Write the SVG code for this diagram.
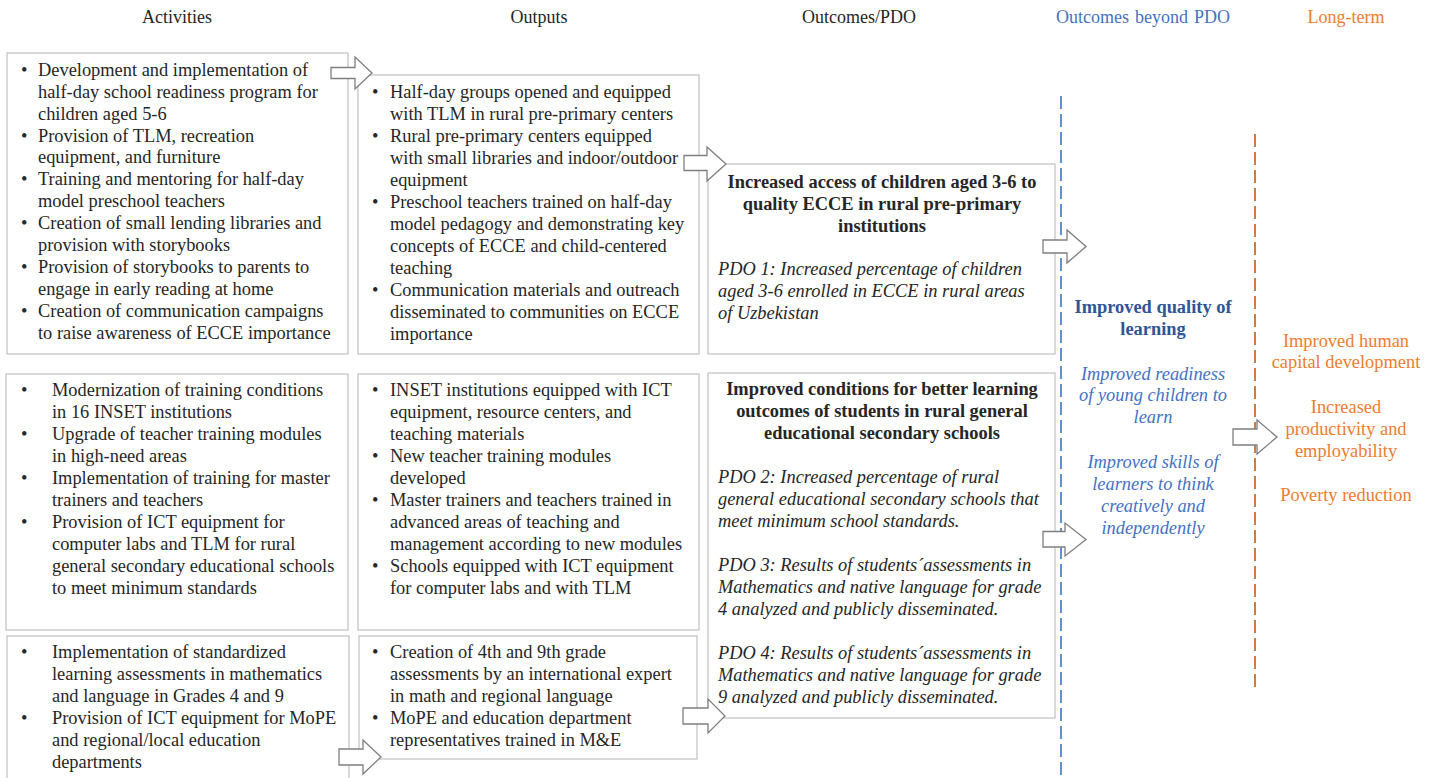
<svg xmlns="http://www.w3.org/2000/svg" width="1434" height="778" viewBox="0 0 1434 778">
<style>
text{font-family:"Liberation Serif","Times New Roman",serif;font-size:18.4px;fill:#262626}
.h{font-size:18px}
.c{text-anchor:middle}
.b{font-weight:bold}
.i{font-style:italic}
.box{fill:#fff;stroke:#c0c0c0;stroke-width:1.2}
.arr{fill:#fff;stroke:#7f7f7f;stroke-width:1.3}
.blue{fill:#4472C4}
.dblue{fill:#2F5597}
.org{fill:#ED7D31}
</style>
<rect width="1434" height="778" fill="#fff"/>
<g id="headers">
<text class="h c" x="177" y="23">Activities</text>
<text class="h c" x="539" y="23">Outputs</text>
<text class="h c" x="859" y="23">Outcomes/PDO</text>
<text class="h c blue" x="1143" y="23" word-spacing="1.5">Outcomes beyond PDO</text>
<text class="h c org" x="1346" y="23">Long-term</text>
</g>
<g id="dividers">
<line x1="1061" y1="96" x2="1061" y2="778" stroke="#4472C4" stroke-width="1.6" stroke-dasharray="13,5"/>
<line x1="1255" y1="134" x2="1255" y2="688" stroke="#C55A11" stroke-width="1.6" stroke-dasharray="13,5"/>
</g>
<g id="act1">
<rect class="box" x="7" y="53" width="341" height="301"/>
<text x="21" y="76">•</text><text x="38" y="76">Development and implementation of</text>
<text x="38" y="98">half-day school readiness program for</text>
<text x="38" y="120">children aged 5-6</text>
<text x="21" y="142">•</text><text x="38" y="142">Provision of TLM, recreation</text>
<text x="38" y="163">equipment, and furniture</text>
<text x="21" y="185">•</text><text x="38" y="185">Training and mentoring for half-day</text>
<text x="38" y="207">model preschool teachers</text>
<text x="21" y="229">•</text><text x="38" y="229">Creation of small lending libraries and</text>
<text x="38" y="251">provision with storybooks</text>
<text x="21" y="273">•</text><text x="38" y="273">Provision of storybooks to parents to</text>
<text x="38" y="295">engage in early reading at home</text>
<text x="21" y="317">•</text><text x="38" y="317">Creation of communication campaigns</text>
<text x="38" y="339">to raise awareness of ECCE importance</text>
</g>
<g id="out1">
<rect class="box" x="358" y="75" width="341" height="279"/>
<text x="372" y="98">•</text><text x="390" y="98">Half-day groups opened and equipped</text>
<text x="390" y="120">with TLM in rural pre-primary centers</text>
<text x="372" y="142">•</text><text x="390" y="142">Rural pre-primary centers equipped</text>
<text x="390" y="164">with small libraries and indoor/outdoor</text>
<text x="390" y="186">equipment</text>
<text x="372" y="208">•</text><text x="390" y="208">Preschool teachers trained on half-day</text>
<text x="390" y="230">model pedagogy and demonstrating key</text>
<text x="390" y="252">concepts of ECCE and child-centered</text>
<text x="390" y="274">teaching</text>
<text x="372" y="296">•</text><text x="390" y="296">Communication materials and outreach</text>
<text x="390" y="318">disseminated to communities on ECCE</text>
<text x="390" y="340">importance</text>
</g>
<g id="outc1">
<rect class="box" x="708" y="164" width="347" height="190"/>
<text class="c b" x="882" y="188">Increased access of children aged 3-6 to</text>
<text class="c b" x="882" y="210">quality ECCE in rural pre-primary</text>
<text class="c b" x="882" y="232">institutions</text>
<text class="i" x="718" y="275">PDO 1: Increased percentage of children</text>
<text class="i" x="718" y="297">aged 3-6 enrolled in ECCE in rural areas</text>
<text class="i" x="718" y="319">of Uzbekistan</text>
</g>
<g id="act2">
<rect class="box" x="6" y="374" width="342" height="256"/>
<text x="21" y="396">•</text><text x="52" y="396">Modernization of training conditions</text>
<text x="52" y="418">in 16 INSET institutions</text>
<text x="21" y="440">•</text><text x="52" y="440">Upgrade of teacher training modules</text>
<text x="52" y="462">in high-need areas</text>
<text x="21" y="484">•</text><text x="52" y="484">Implementation of training for master</text>
<text x="52" y="506">trainers and teachers</text>
<text x="21" y="528">•</text><text x="52" y="528">Provision of ICT equipment for</text>
<text x="52" y="550">computer labs and TLM for rural</text>
<text x="52" y="572">general secondary educational schools</text>
<text x="52" y="594">to meet minimum standards</text>
</g>
<g id="out2">
<rect class="box" x="358" y="374" width="341" height="256"/>
<text x="372" y="396">•</text><text x="390" y="396">INSET institutions equipped with ICT</text>
<text x="390" y="418">equipment, resource centers, and</text>
<text x="390" y="440">teaching materials</text>
<text x="372" y="462">•</text><text x="390" y="462">New teacher training modules</text>
<text x="390" y="484">developed</text>
<text x="372" y="506">•</text><text x="390" y="506">Master trainers and teachers trained in</text>
<text x="390" y="528">advanced areas of teaching and</text>
<text x="390" y="550">management according to new modules</text>
<text x="372" y="572">•</text><text x="390" y="572">Schools equipped with ICT equipment</text>
<text x="390" y="594">for computer labs and with TLM</text>
</g>
<g id="outc2">
<rect class="box" x="708" y="373" width="347" height="345"/>
<text class="c b" x="882" y="395">Improved conditions for better learning</text>
<text class="c b" x="882" y="417">outcomes of students in rural general</text>
<text class="c b" x="882" y="439">educational secondary schools</text>
<text class="i" x="718" y="483">PDO 2: Increased percentage of rural</text>
<text class="i" x="718" y="505">general educational secondary schools that</text>
<text class="i" x="718" y="527">meet minimum school standards.</text>
<text class="i" x="718" y="571">PDO 3: Results of students´assessments in</text>
<text class="i" x="718" y="593">Mathematics and native language for grade</text>
<text class="i" x="718" y="615">4 analyzed and publicly disseminated.</text>
<text class="i" x="718" y="659">PDO 4: Results of students´assessments in</text>
<text class="i" x="718" y="681">Mathematics and native language for grade</text>
<text class="i" x="718" y="703">9 analyzed and publicly disseminated.</text>
</g>
<g id="act3">
<rect class="box" x="7" y="636" width="342" height="150"/>
<text x="21" y="658">•</text><text x="52" y="658">Implementation of standardized</text>
<text x="52" y="680">learning assessments in mathematics</text>
<text x="52" y="702">and language in Grades 4 and 9</text>
<text x="21" y="724">•</text><text x="52" y="724">Provision of ICT equipment for MoPE</text>
<text x="52" y="746">and regional/local education</text>
<text x="52" y="768">departments</text>
</g>
<g id="out3">
<rect class="box" x="359" y="636" width="338" height="123"/>
<text x="372" y="658">•</text><text x="390" y="658">Creation of 4th and 9th grade</text>
<text x="390" y="680">assessments by an international expert</text>
<text x="390" y="702">in math and regional language</text>
<text x="372" y="724">•</text><text x="390" y="724">MoPE and education department</text>
<text x="390" y="746">representatives trained in M&amp;E</text>
</g>
<g id="beyond">
<text class="c b dblue" x="1153" y="313">Improved quality of</text>
<text class="c b dblue" x="1153" y="335">learning</text>
<text class="c i blue" x="1153" y="380">Improved readiness</text>
<text class="c i blue" x="1153" y="401">of young children to</text>
<text class="c i blue" x="1153" y="423">learn</text>
<text class="c i blue" x="1153" y="468">Improved skills of</text>
<text class="c i blue" x="1153" y="490">learners to think</text>
<text class="c i blue" x="1153" y="512">creatively and</text>
<text class="c i blue" x="1153" y="534">independently</text>
</g>
<g id="longterm">
<text class="c org" x="1346" y="347">Improved human</text>
<text class="c org" x="1346" y="368">capital development</text>
<text class="c org" x="1346" y="413">Increased</text>
<text class="c org" x="1346" y="435">productivity and</text>
<text class="c org" x="1346" y="457">employability</text>
<text class="c org" x="1346" y="501">Poverty reduction</text>
</g>
<g id="connectors">
<path class="arr" d="M331,67.5 H355 V57 L372,73 L355,89 V78.5 H331 Z"/>
<path class="arr" d="M684,155.5 H707 V147 L726,164 L707,181 V170.5 H684 Z"/>
<path class="arr" d="M1043,240 H1067 V230 L1086,246.5 L1067,263 V253 H1043 Z"/>
<path class="arr" d="M1043,531.5 H1065 V523 L1086,539.5 L1065,556 V547 H1043 Z"/>
<path class="arr" d="M1233,429 H1257 V420 L1277,437 L1257,454 V445 H1233 Z"/>
<path class="arr" d="M339,749 H363 V740 L381,757 L363,774 V765 H339 Z"/>
<path class="arr" d="M683,708 H708 V699 L725,716 L708,733 V724 H683 Z"/>
</g>
</svg>
